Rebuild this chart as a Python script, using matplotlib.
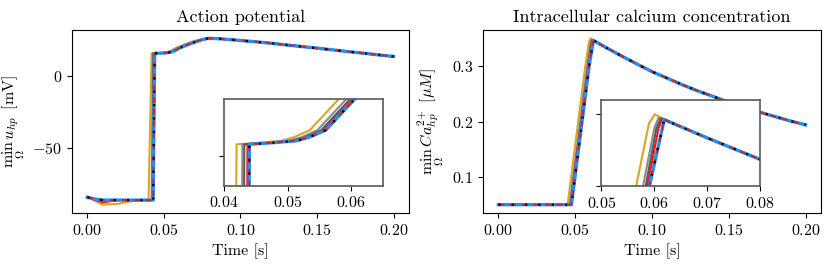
import matplotlib
matplotlib.use("Agg")
import matplotlib.pyplot as plt

plt.rcParams["font.family"] = "serif"
plt.rcParams["font.serif"] = ["cmr10", "DejaVu Serif"]
plt.rcParams["mathtext.fontset"] = "cm"
plt.rcParams["axes.formatter.use_mathtext"] = True
plt.rcParams["font.size"] = 11.5

# ---- action potential (mV) ----
ap_tail_t = [0.075, 0.079, 0.085, 0.09, 0.10, 0.11, 0.12, 0.13, 0.14, 0.15, 0.16, 0.17, 0.18, 0.19, 0.20]
ap_tail_v = [25.5, 26.4, 26.2, 25.8, 24.9, 24.0, 23.0, 21.8, 20.7, 19.6, 18.4, 17.2, 16.1, 14.9, 13.8]

ap_gold_t = [0.0, 0.01, 0.02, 0.03, 0.040, 0.042, 0.046, 0.049, 0.051, 0.0535, 0.058, 0.063, 0.068, 0.070]
ap_gold_v = [-84.0, -89.2, -88.6, -86.5, -86.0, 16.0, 16.15, 16.3, 16.6, 17.2, 19.8, 22.0, 24.0, 24.6]
ap_gray_t = [0.0, 0.005, 0.01, 0.042, 0.0429, 0.047, 0.0502, 0.0522, 0.0547, 0.0592, 0.064, 0.070]
ap_gray_v = [-84.0, -85.3, -86.0, -86.0, 16.0, 16.15, 16.3, 16.6, 17.2, 19.8, 21.9, 24.1]
ap_dgray_t = [0.0, 0.005, 0.01, 0.0425, 0.0432, 0.0478, 0.0508, 0.0528, 0.0553, 0.0598, 0.0648, 0.070]
ap_dgray_v = [-84.0, -85.3, -86.0, -86.0, 16.0, 16.15, 16.3, 16.6, 17.2, 19.8, 21.9, 23.9]
ap_red_t = [0.0, 0.01, 0.02, 0.043, 0.0437, 0.048, 0.0512, 0.0532, 0.0557, 0.0602, 0.0652, 0.070]
ap_red_v = [-84.0, -87.6, -86.0, -86.0, 16.0, 16.15, 16.3, 16.6, 17.2, 19.8, 21.9, 23.8]
ap_ref_t = [0.0, 0.005, 0.01, 0.043, 0.044, 0.048, 0.0514, 0.0534, 0.056, 0.0605, 0.0655, 0.070]
ap_ref_v = [-84.0, -85.3, -86.0, -86.0, 16.0, 16.15, 16.3, 16.6, 17.2, 19.8, 21.9, 23.7]

# ---- intracellular calcium (uM) ----
ca_tail_t = [0.063, 0.07, 0.08, 0.09, 0.10, 0.11, 0.12, 0.13, 0.14, 0.15, 0.16, 0.17, 0.18, 0.19, 0.20]
ca_tail_v = [0.3445, 0.3335, 0.3185, 0.304, 0.290, 0.278, 0.266, 0.255, 0.245, 0.235, 0.226, 0.217, 0.209, 0.201, 0.194]

ca_gold_t = [0.0, 0.0451, 0.0566, 0.059, 0.0601, 0.0612]
ca_gold_v = [0.05, 0.05, 0.30, 0.3435, 0.350, 0.3478]
ca_gray_t = [0.0, 0.0464, 0.0579, 0.0600, 0.0608, 0.0616]
ca_gray_v = [0.05, 0.05, 0.30, 0.340, 0.3475, 0.3468]
ca_dgray_t = [0.0, 0.0469, 0.0584, 0.0604, 0.0612, 0.0620]
ca_dgray_v = [0.05, 0.05, 0.30, 0.340, 0.347, 0.3462]
ca_red_t = [0.0, 0.0472, 0.0587, 0.0608, 0.0615]
ca_red_v = [0.05, 0.05, 0.30, 0.340, 0.3466]
ca_ref_t = [0.0, 0.0476, 0.0591, 0.0619]
ca_ref_v = [0.05, 0.05, 0.30, 0.3463]

styles = [
    dict(color="goldenrod", lw=1.5, ls="-"),
    dict(color="0.55", lw=1.5, ls="-"),
    dict(color="0.35", lw=1.5, ls="-"),
    dict(color="#e8191c", lw=1.5, ls="-"),
    dict(color="#1e90ff", lw=2.4, ls="-"),
    dict(color="#c8281e", lw=1.4, ls=(0, (3, 3))),
    dict(color="black", lw=1.6, ls=(0, (1, 5))),
]


def series(heads, tail_t, tail_v):
    out = []
    for t, v in heads:
        out.append((list(t) + tail_t, list(v) + tail_v))
    return out


ap_series = series(
    [(ap_gold_t, ap_gold_v), (ap_gray_t, ap_gray_v), (ap_dgray_t, ap_dgray_v), (ap_red_t, ap_red_v),
     (ap_ref_t, ap_ref_v), (ap_ref_t, ap_ref_v), (ap_ref_t, ap_ref_v)],
    ap_tail_t, ap_tail_v)
ca_series = series(
    [(ca_gold_t, ca_gold_v), (ca_gray_t, ca_gray_v), (ca_dgray_t, ca_dgray_v), (ca_red_t, ca_red_v),
     (ca_ref_t, ca_ref_v), (ca_ref_t, ca_ref_v), (ca_ref_t, ca_ref_v)],
    ca_tail_t, ca_tail_v)


def draw(ax, data):
    for (t, v), st in zip(data, styles):
        ax.plot(t, v, **st)


fig = plt.figure(figsize=(8.31, 2.67), dpi=100)
ax_ap = fig.add_axes([0.0866, 0.2022, 0.4055, 0.6854])
ax_ca = fig.add_axes([0.5812, 0.2022, 0.4067, 0.6854])

fmt = matplotlib.ticker.FormatStrFormatter(r"$%.2f$")

draw(ax_ap, ap_series)
ax_ap.set_title("Action potential", fontsize=13)
ax_ap.set_xlabel("Time [s]")
ax_ap.set_ylabel(r"$\min_{\Omega}\, u_{hp}$ [mV]")
ax_ap.set_yticks([-50, 0])
ax_ap.set_xticks([0.0, 0.05, 0.10, 0.15, 0.20])
ax_ap.xaxis.set_major_formatter(fmt)

draw(ax_ca, ca_series)
ax_ca.set_title("Intracellular calcium concentration", fontsize=13)
ax_ca.set_xlabel("Time [s]")
ax_ca.set_ylabel(r"$\min_{\Omega}\, Ca^{2+}_{hp}$ [$\mu M$]")
ax_ca.set_yticks([0.1, 0.2, 0.3])
ax_ca.set_xticks([0.0, 0.05, 0.10, 0.15, 0.20])
ax_ca.xaxis.set_major_formatter(fmt)

# insets
ins_ap = ax_ap.inset_axes([0.451, 0.149, 0.472, 0.472])
draw(ins_ap, ap_series)
ins_ap.set_xlim(0.04, 0.065)
ins_ap.set_ylim(12.5, 19.8)
ins_ap.set_xticks([0.04, 0.05, 0.06])
ins_ap.set_yticks([15])
ins_ap.set_yticklabels([])

ins_ca = ax_ca.inset_axes([0.350, 0.148, 0.470, 0.470])
draw(ins_ca, ca_series)
ins_ca.set_xlim(0.05, 0.08)
ins_ca.set_ylim(0.30, 0.36)
ins_ca.set_xticks([0.05, 0.06, 0.07, 0.08])
ins_ca.set_yticks([0.30, 0.35])
ins_ca.set_yticklabels([])

for ins in (ins_ap, ins_ca):
    for sp in ins.spines.values():
        sp.set_color("0.35")
        sp.set_linewidth(1.2)

fig.savefig("out.png", dpi=100)
